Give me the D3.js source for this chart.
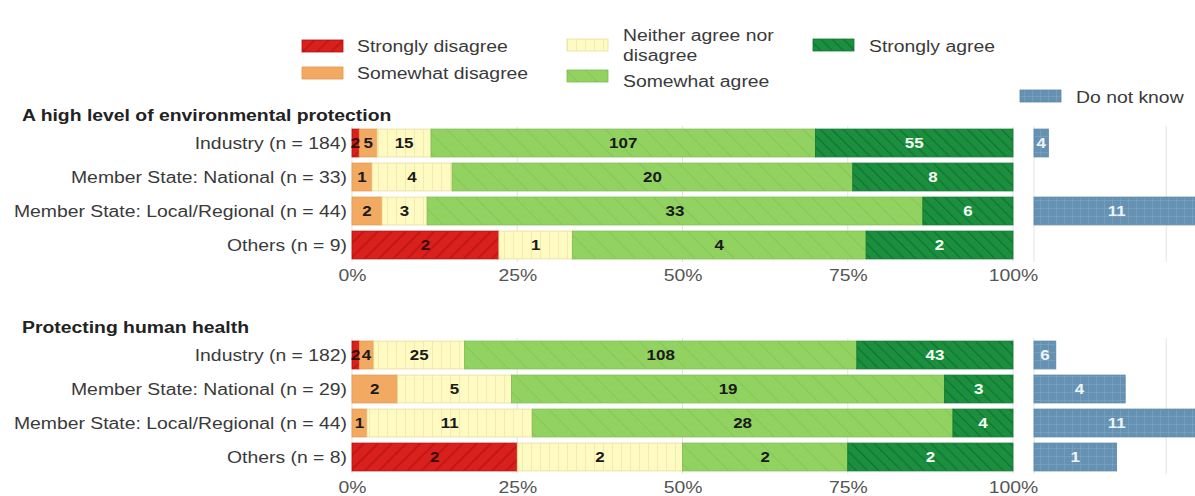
<!DOCTYPE html>
<html><head><meta charset="utf-8">
<script src="https://cdn.jsdelivr.net/npm/d3@7"></script>
<style>body{margin:0;background:#fff;} svg{display:block;font-family:"Liberation Sans",Arial,sans-serif;}</style>
</head><body><svg id="c" width="1195" height="496"></svg>
<script>
const categories = ["Strongly disagree","Somewhat disagree","Neither agree nor disagree","Somewhat agree","Strongly agree"];
const groups1 = ["Industry (n = 184)","Member State: National (n = 33)","Member State: Local/Regional (n = 44)","Others (n = 9)"];
const groups2 = ["Industry (n = 182)","Member State: National (n = 29)","Member State: Local/Regional (n = 44)","Others (n = 8)"];
// counts per group in order of categories
const env = [[2,5,15,107,55],[0,1,4,20,8],[0,2,3,33,6],[2,0,1,4,2]];
const envDNK = [4,0,11,0];
const health = [[2,4,25,108,43],[0,2,5,19,3],[0,1,11,28,4],[2,0,2,2,2]];
const healthDNK = [6,4,11,1];
const ticks = [0,0.25,0.5,0.75,1];
const titles = ["A high level of environmental protection","Protecting human health"];

const svg = d3.select("#c");
const defs = svg.append("defs");
const fills = ["#d8201c","#f2aa62","#fffac2","#92d261","#1c8f3f"];
const strokes = ["#b3100e","#e3964a","#e6df9e","#7cbd4f","#117530"];
const dnkFill = "#6591b2", dnkStroke="#85abc6";
function stripe(id,bg,line,spacing,angle,w){
  const p = defs.append("pattern").attr("id",id).attr("patternUnits","userSpaceOnUse")
    .attr("width",spacing).attr("height",spacing).attr("patternTransform",`rotate(${angle})`);
  p.append("rect").attr("width",spacing).attr("height",spacing).attr("fill",bg);
  p.append("line").attr("x1",0).attr("y1",0).attr("x2",0).attr("y2",spacing).attr("stroke",line).attr("stroke-width",w);
}
stripe("p0",fills[0],"#bd1412",10,45,3);
stripe("p1",fills[1],fills[1],10,0,0);
stripe("p2",fills[2],"#e2dca0",9,0,1);
stripe("p3",fills[3],"#7fc253",14,-45,1.5);
stripe("p4",fills[4],"#0f7430",8,-45,2.5);
(function(){
  const s=8;
  const p = defs.append("pattern").attr("id","pd").attr("patternUnits","userSpaceOnUse").attr("width",s).attr("height",s);
  p.append("rect").attr("width",s).attr("height",s).attr("fill",dnkFill);
  p.append("line").attr("x1",0).attr("y1",0).attr("x2",0).attr("y2",s).attr("stroke",dnkStroke).attr("stroke-width",1);
  p.append("line").attr("x1",0).attr("y1",0).attr("x2",s).attr("y2",0).attr("stroke",dnkStroke).attr("stroke-width",1);
})();

const x = d3.scaleLinear().domain([0,1]).range([352,1013]);
const xd = d3.scaleLinear().domain([0,1]).range([1034,1034+661]);

function panel(groups, data, dnk, title, top){
  const y = d3.scaleBand().domain(groups).range([top, top+136]).paddingInner(0.18).paddingOuter(0.09);
  const g = svg.append("g");
  g.append("text").attr("x",22).attr("y",top-5).attr("font-weight","bold").attr("font-size",16).attr("fill","#222").text(title);
  // grid
  g.selectAll("line.grid").data(ticks).join("line").attr("x1",d=>x(d)).attr("x2",d=>x(d))
    .attr("y1",top).attr("y2",top+136).attr("stroke","#e3e3e3");
  g.selectAll("line.gridd").data([0,0.2]).join("line").attr("x1",d=>xd(d)).attr("x2",d=>xd(d))
    .attr("y1",top).attr("y2",top+136).attr("stroke","#e3e3e3");
  groups.forEach((grp,i)=>{
    const row = data[i];
    const n = d3.sum(row);
    let cum = 0;
    const segs = row.map((v,k)=>{const s={k,v,x0:cum/n,x1:(cum+v)/n}; cum+=v; return s;}).filter(s=>s.v>0);
    const rg = g.append("g");
    rg.selectAll("rect").data(segs).join("rect")
      .attr("x",d=>x(d.x0)).attr("width",d=>x(d.x1)-x(d.x0))
      .attr("y",y(grp)).attr("height",y.bandwidth())
      .attr("fill",d=>`url(#p${d.k})`).attr("stroke",d=>strokes[d.k]).attr("stroke-width",0.8);
    rg.selectAll("text").data(segs).join("text")
      .attr("x",d=>x((d.x0+d.x1)/2)).attr("y",y(grp)+y.bandwidth()/2).attr("dy","0.36em")
      .attr("text-anchor","middle").attr("font-weight","bold").attr("font-size",14)
      .attr("fill",d=>d.k===4?"#f2fff2":(d.k===0?"#3a0a08":"#1a1a1a")).text(d=>d.v);
    if(dnk[i]>0){
      const w = dnk[i]/n;
      rg.append("rect").attr("x",xd(0)).attr("width",xd(w)-xd(0)).attr("y",y(grp)).attr("height",y.bandwidth())
        .attr("fill","url(#pd)").attr("stroke","#5a87a8").attr("stroke-width",0.8);
      rg.append("text").attr("x",xd(w/2)).attr("y",y(grp)+y.bandwidth()/2).attr("dy","0.36em")
        .attr("text-anchor","middle").attr("font-weight","bold").attr("font-size",14).attr("fill","#eef4f8").text(dnk[i]);
    }
    g.append("text").attr("x",347).attr("y",y(grp)+y.bandwidth()/2).attr("dy","0.36em")
      .attr("text-anchor","end").attr("font-size",16).attr("fill","#3a3a3a").text(grp);
  });
  const ax = d3.axisBottom(x).tickValues(ticks).tickFormat(d3.format(".0%")).tickSize(0).tickPadding(8);
  const a = g.append("g").attr("transform",`translate(0,${top+136})`).call(ax);
  a.select(".domain").remove();
  a.selectAll("text").attr("font-size",16).attr("fill","#555").attr("font-family","Liberation Sans, Arial, sans-serif");
}
panel(groups1, env, envDNK, titles[0], 126);
panel(groups2, health, healthDNK, titles[1], 338);

// legend
const legend = [
  {k:0, x:302, y:46, lines:["Strongly disagree"], tx:357, ty:[46]},
  {k:1, x:302, y:73, lines:["Somewhat disagree"], tx:357, ty:[73]},
  {k:2, x:567, y:45, lines:["Neither agree nor","disagree"], tx:623, ty:[35,55]},
  {k:3, x:567, y:76, lines:["Somewhat agree"], tx:623, ty:[81]},
  {k:4, x:813, y:45, lines:["Strongly agree"], tx:869, ty:[46]},
  {k:"d", x:1020, y:96, lines:["Do not know"], tx:1076, ty:[97]}
];
const lg = svg.append("g");
legend.forEach(l=>{
  lg.append("rect").attr("x",l.x).attr("y",l.y-6).attr("width",41).attr("height",12)
    .attr("fill",l.k==="d"?"url(#pd)":`url(#p${l.k})`).attr("stroke",l.k==="d"?"#5a87a8":strokes[l.k]).attr("stroke-width",0.8);
  l.lines.forEach((t,j)=>lg.append("text").attr("x",l.tx).attr("y",l.ty[j]).attr("dy","0.36em")
    .attr("font-size",16).attr("fill","#3a3a3a").text(t));
});
// the reference's lettering is horizontally wide: stretch all text
svg.selectAll("text").each(function(){
  const w = this.getComputedTextLength();
  d3.select(this).attr("textLength", w*1.21).attr("lengthAdjust","spacingAndGlyphs");
});
</script></body></html>
